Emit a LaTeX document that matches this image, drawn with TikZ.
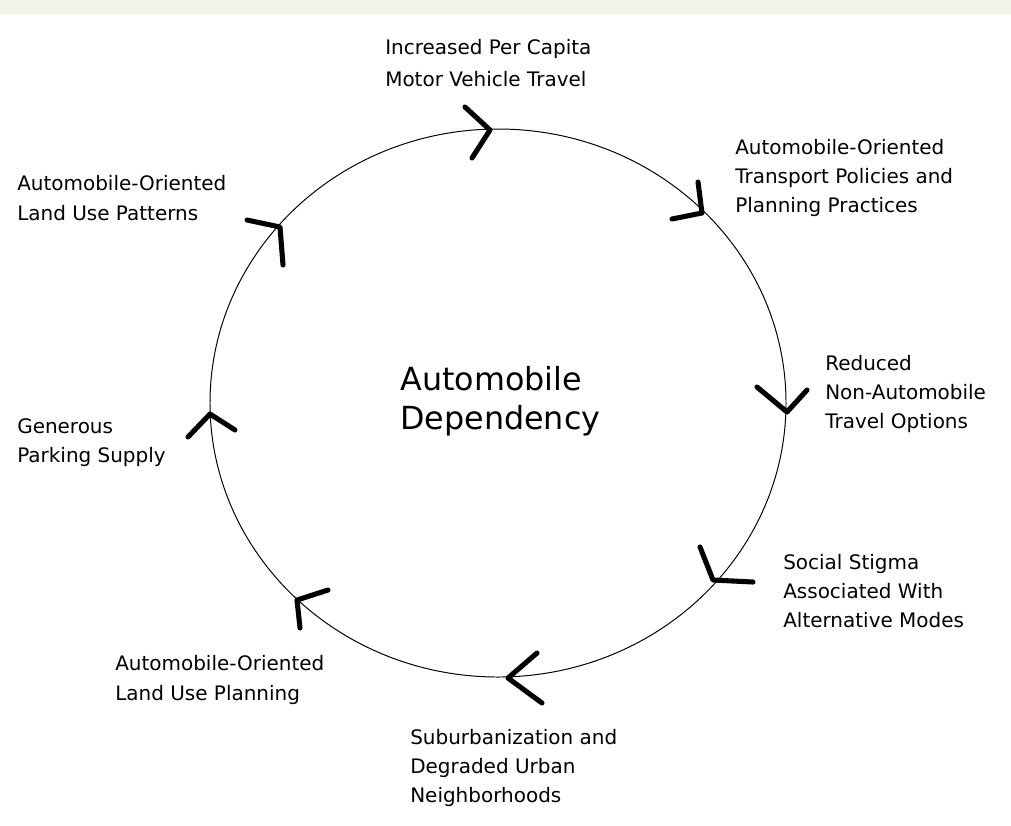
\documentclass[tikz,border=0pt]{standalone}
\usepackage{fontspec}
\setmainfont{DejaVu Sans}
\definecolor{bandgreen}{HTML}{F0F5E8}
\begin{document}
\begin{tikzpicture}[x=0.025cm,y=-0.025cm,
  lbl/.style={anchor=west,align=left,inner sep=0pt,font=\fontsize{14.2}{20.8}\selectfont},
  title/.style={anchor=west,align=left,inner sep=0pt,font=\fontsize{22.6}{27.5}\selectfont},
  chev/.style={line width=3.6pt,line cap=round,line join=round}]
  \useasboundingbox (0,0) rectangle (1011,825);
  \fill[bandgreen] (0,0) rectangle (1011,14);

  % the cycle
  \draw[line width=0.7pt] (498,403) ellipse [x radius=288,y radius=274];

  % arrowheads round the cycle (tip/arm/arm)
  \foreach \tx/\ty/\ax/\ay/\bx/\by in {490/130/465/107/472/158, 702/213/698/182/672/219,
      787/412/757/387/807/390, 713/580/700/547/753/582, 508/678/537/653/542/703,
      297/600/328/590/300/628, 210/414/188/437/235/430, 280/227/247/220/283/265} {
    \draw[chev] (\ax,\ay) -- (\tx,\ty) -- (\bx,\by);
  }

  \node[title] (dep) at (400,401) {Automobile\\Dependency};

  \node[lbl,font=\fontsize{14.2}{23}\selectfont] (travel) at (385,63) {Increased Per Capita\\Motor Vehicle Travel};
  \node[lbl] (policy) at (735,178) {Automobile-Oriented\\Transport Policies and\\Planning Practices};
  \node[lbl] (options) at (825,394) {Reduced\\Non-Automobile\\Travel Options};
  \node[lbl] (stigma) at (783,591) {Social Stigma\\Associated With\\Alternative Modes};
  \node[lbl] (suburb) at (410,768) {Suburbanization and\\Degraded Urban\\Neighborhoods};
  \node[lbl] (planning) at (115,680) {Automobile-Oriented\\Land Use Planning};
  \node[lbl] (parking) at (17,443) {Generous\\Parking Supply};
  \node[lbl] (patterns) at (17,198) {Automobile-Oriented\\Land Use Patterns};
\end{tikzpicture}
\end{document}
